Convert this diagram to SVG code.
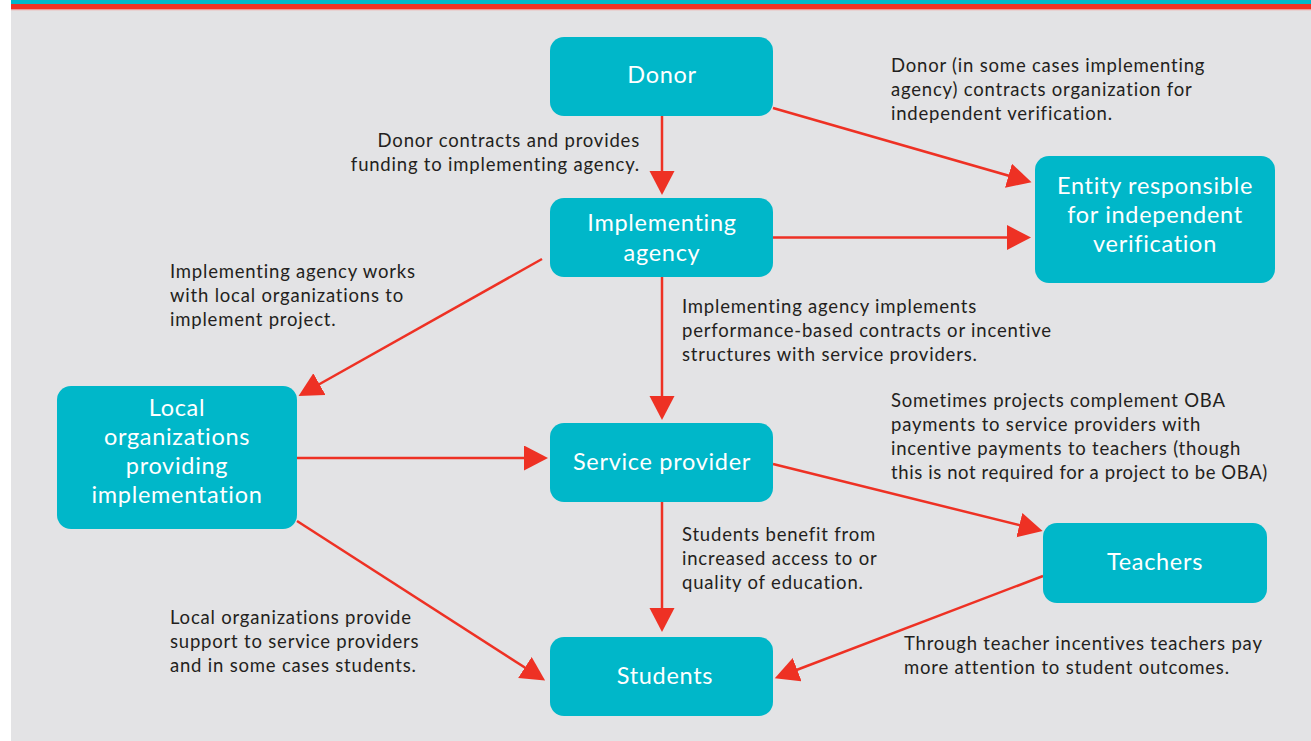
<svg xmlns="http://www.w3.org/2000/svg" width="1311" height="741" viewBox="0 0 1311 741">
<style>
.node rect{fill:#00b7c9;}
.node text{fill:#ffffff;font-family:Lato,"Open Sans",sans-serif;font-size:23.5px;letter-spacing:0.7px;text-anchor:middle;}
.lbl{fill:#231f20;font-family:Lato,"Open Sans",sans-serif;font-size:18.5px;letter-spacing:0.8px;}
.lbl.tight{letter-spacing:0.6px;}
.conn line{stroke:#ee3124;stroke-width:2.5;fill:none;marker-end:url(#ah);}
</style>
<defs>
<marker id="ah" markerUnits="userSpaceOnUse" markerWidth="26" markerHeight="26" refX="12" refY="12.5" orient="auto">
<path d="M0,0 L24,12.5 L0,25 z" fill="#ee3124"/>
</marker>
</defs>
<rect x="0" y="0" width="1311" height="741" fill="#ffffff"/>
<rect x="11" y="0" width="1300" height="741" fill="#e3e3e5"/>
<rect x="11" y="0" width="1300" height="4" fill="#00b7c9"/>
<rect x="11" y="4" width="1300" height="5.5" fill="#ee3124"/>
<rect x="11" y="9.5" width="1300" height="0.8" fill="#f2a8a3"/>

<g id="connectors" class="conn">
<line x1="662" y1="116" x2="662" y2="183"/>
<line x1="773" y1="108" x2="1020" y2="179"/>
<line x1="773" y1="237.5" x2="1019" y2="237.5"/>
<line x1="542" y1="259" x2="309" y2="390"/>
<line x1="662" y1="277" x2="662" y2="408"/>
<line x1="297" y1="458" x2="536" y2="458"/>
<line x1="773" y1="464" x2="1031" y2="528"/>
<line x1="662" y1="502" x2="662" y2="620"/>
<line x1="297" y1="521" x2="535" y2="674"/>
<line x1="1043" y1="576" x2="786" y2="674"/>
</g>

<g id="donor" class="node"><rect x="550" y="37" width="223" height="79" rx="14"/><text x="662" y="83">Donor</text></g>
<g id="implementing-agency" class="node"><rect x="550" y="198" width="223" height="79" rx="14"/><text x="662" y="231">Implementing</text><text x="662" y="261">agency</text></g>
<g id="entity" class="node"><rect x="1035" y="156" width="240" height="127" rx="14"/><text x="1155" y="194">Entity responsible</text><text x="1155" y="223">for independent</text><text x="1155" y="252">verification</text></g>
<g id="local-organizations" class="node"><rect x="57" y="386" width="240" height="143" rx="14"/><text x="177" y="416">Local</text><text x="177" y="445">organizations</text><text x="177" y="474">providing</text><text x="177" y="503">implementation</text></g>
<g id="service-provider" class="node"><rect x="550" y="423" width="223" height="79" rx="14"/><text x="662" y="470">Service provider</text></g>
<g id="teachers" class="node"><rect x="1043" y="523" width="224" height="80" rx="14"/><text x="1155" y="570">Teachers</text></g>
<g id="students" class="node"><rect x="550" y="637" width="223" height="79" rx="14"/><text x="665" y="684">Students</text></g>

<g id="labels">
<text class="lbl" x="891" y="72">Donor (in some cases implementing</text>
<text class="lbl" x="891" y="96">agency) contracts organization for</text>
<text class="lbl" x="891" y="120">independent verification.</text>
<text class="lbl" x="640" y="147" text-anchor="end">Donor contracts and provides</text>
<text class="lbl" x="640" y="171" text-anchor="end">funding to implementing agency.</text>
<text class="lbl" x="170" y="278">Implementing agency works</text>
<text class="lbl" x="170" y="302">with local organizations to</text>
<text class="lbl" x="170" y="326">implement project.</text>
<text class="lbl" x="682" y="313">Implementing agency implements</text>
<text class="lbl" x="682" y="337">performance-based contracts or incentive</text>
<text class="lbl" x="682" y="361">structures with service providers.</text>
<text class="lbl" x="891" y="407">Sometimes projects complement OBA</text>
<text class="lbl" x="891" y="431">payments to service providers with</text>
<text class="lbl" x="891" y="455">incentive payments to teachers (though</text>
<text class="lbl tight" x="891" y="479">this is not required for a project to be OBA)</text>
<text class="lbl" x="682" y="541">Students benefit from</text>
<text class="lbl" x="682" y="565">increased access to or</text>
<text class="lbl" x="682" y="589">quality of education.</text>
<text class="lbl" x="170" y="624">Local organizations provide</text>
<text class="lbl" x="170" y="648">support to service providers</text>
<text class="lbl" x="170" y="672">and in some cases students.</text>
<text class="lbl" x="904" y="650">Through teacher incentives teachers pay</text>
<text class="lbl" x="904" y="674">more attention to student outcomes.</text>
</g>
</svg>
